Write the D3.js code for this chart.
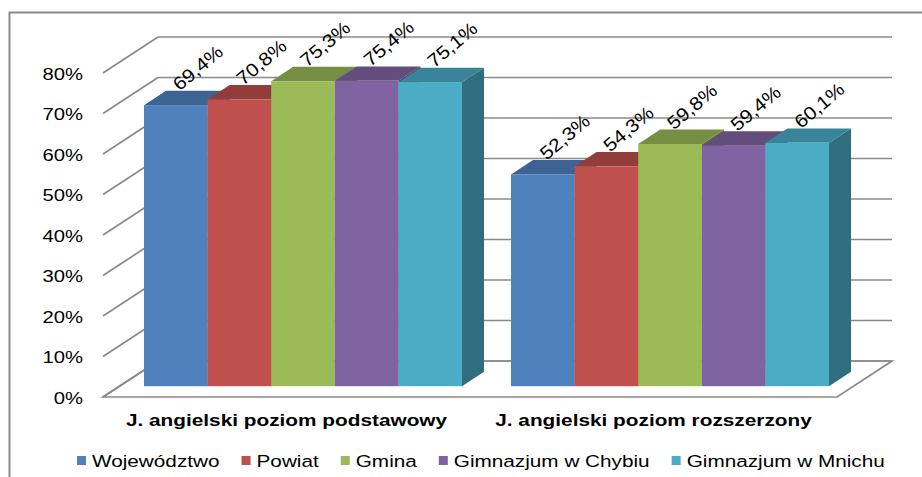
<!DOCTYPE html>
<html>
<head>
<meta charset="utf-8">
<script src="https://cdn.jsdelivr.net/npm/d3@7"></script>
<style>
  body { margin: 0; background: #fff; }
  text { font-family: "Liberation Sans", Arial, sans-serif; fill: #000; }
</style>
</head>
<body>
<script>
// ---- data ----
const categories = ["J. angielski poziom podstawowy", "J. angielski poziom rozszerzony"];
const series = ["Województwo", "Powiat", "Gmina", "Gimnazjum w Chybiu", "Gimnazjum w Mnichu"];
const valWojewodztwo = [0.694, 0.523];
const valPowiat = [0.708, 0.543];
const valGmina = [0.753, 0.598];
const valChybie = [0.754, 0.594];
const valMnich = [0.751, 0.601];
const seriesValues = [valWojewodztwo, valPowiat, valGmina, valChybie, valMnich];
const tickValues = [0, 0.1, 0.2, 0.3, 0.4, 0.5, 0.6, 0.7, 0.8];
const colors = ["#4F81BD", "#C0504D", "#9BBB59", "#8064A2", "#4BACC6"];

// ---- layout ----
const W = 922, H = 477;
const DX = 55, DY = -36;           // full depth offset
const planeFrac = 0.3, barFrac = 0.4;
const offX = planeFrac * DX, offY = planeFrac * DY;
const bdx = barFrac * DX, bdy = barFrac * DY;

const locale = d3.formatLocale({decimal: ",", thousands: " ", grouping: [3], currency: ["", " zł"]});
const fmtLabel = locale.format(".1%");
const fmtAxis = locale.format(".0%");

const svg = d3.select("body").append("svg").attr("width", W).attr("height", H);
svg.append("rect").attr("width", W).attr("height", H).attr("fill", "#fff");
// outer border
svg.append("rect").attr("x", 9.5).attr("y", 12.5).attr("width", 930).attr("height", 480)
  .attr("fill", "none").attr("stroke", "#8a8a8a").attr("stroke-width", 2);

const y = d3.scaleLinear().domain([0, 0.8]).range([397, 73]);
const x = d3.scaleBand().domain(categories).range([103, 837]).paddingInner(0).paddingOuter(0);
const xs = d3.scaleBand().domain(series).range([0, x.bandwidth()]).paddingInner(0).paddingOuter(0.385);

const gridColor = "#8a8a8a";
const grid = svg.append("g").attr("stroke", gridColor).attr("stroke-width", 1.7).attr("fill", "none");
const x0f = x.range()[0], x1f = x.range()[1];
// floor
grid.append("path")
  .attr("fill", "#fff")
  .attr("d", `M${x0f},${y(0)}L${x1f},${y(0)}L${x1f + DX},${y(0) + DY}L${x0f + DX},${y(0) + DY}Z`);
tickValues.forEach(t => {
  grid.append("line").attr("x1", x0f + DX).attr("x2", x1f + DX)
    .attr("y1", y(t) + DY).attr("y2", y(t) + DY);
  grid.append("line").attr("x1", x0f).attr("x2", x0f + DX)
    .attr("y1", y(t)).attr("y2", y(t) + DY);
});

// y axis labels
const axis = d3.axisLeft(y).tickValues(tickValues).tickFormat(fmtAxis).tickSize(0).tickPadding(0);
const ga = svg.append("g").attr("transform", "translate(83,0)").call(axis);
ga.select(".domain").remove();
ga.selectAll("text").attr("x", 0).attr("dy", "0.36em")
  .attr("transform", "scale(1.19,1)")
  .style("font-size", "17px").style("font-family", "'Liberation Sans', Arial, sans-serif").attr("fill", "#000");

// bars
const barsG = svg.append("g");
const labelsG = svg.append("g");
categories.forEach((cat, ci) => {
  series.forEach((s, si) => {
    const v = seriesValues[si][ci];
    const c = d3.color(colors[si]);
    const bx0 = x(cat) + xs(s) + offX;
    const bx1 = bx0 + xs.bandwidth();
    const yt = y(v) + offY;
    const yb = y(0) + offY;
    const g = barsG.append("g");
    g.append("path").attr("fill", c.darker(1.25).formatHex())
      .attr("d", `M${bx1},${yt}L${bx1 + bdx},${yt + bdy}L${bx1 + bdx},${yb + bdy}L${bx1},${yb}Z`);
    g.append("path").attr("fill", c.darker(0.75).formatHex())
      .attr("d", `M${bx0},${yt}L${bx1},${yt}L${bx1 + bdx},${yt + bdy}L${bx0 + bdx},${yt + bdy}Z`);
    g.append("rect").attr("x", bx0).attr("y", yt).attr("width", bx1 - bx0).attr("height", yb - yt)
      .attr("fill", c.formatHex());
    const lx = (bx0 + bx1) / 2 + bdx;
    const ly = yt + bdy - 23;
    labelsG.append("text")
      .attr("transform", `translate(${lx},${ly}) rotate(-40) scale(1.12,1)`)
      .attr("text-anchor", "middle").attr("dy", "0.35em")
      .style("font-size", "18.5px")
      .text(fmtLabel(v));
  });
  svg.append("text")
    .attr("transform", `translate(${x(cat) + x.bandwidth() / 2},426) scale(1.3,1)`)
    .attr("text-anchor", "middle")
    .style("font-size", "16px").style("font-weight", "bold")
    .text(cat);
});

// legend
const lg = svg.append("g");
let cx = 77;
series.forEach((s, si) => {
  lg.append("rect").attr("x", cx).attr("y", 456).attr("width", 9).attr("height", 9).attr("fill", colors[si]);
  const t = lg.append("text")
    .attr("transform", `translate(${cx + 15},466.5) scale(1.22,1)`)
    .style("font-size", "17px").text(s);
  const w = t.node().getComputedTextLength() * 1.22;
  cx += 15 + w + 22;
});
</script>
</body>
</html>
